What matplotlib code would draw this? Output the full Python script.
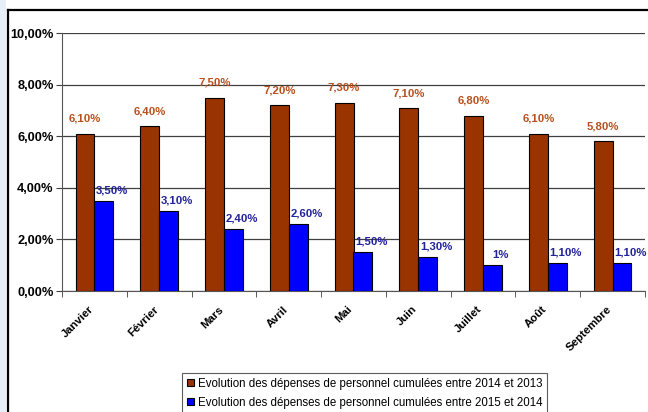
import matplotlib
matplotlib.use("Agg")
import matplotlib.pyplot as plt
import matplotlib.transforms as mtransforms
from matplotlib.patches import Rectangle
from matplotlib.lines import Line2D

months = ["Janvier", "Février", "Mars", "Avril", "Mai", "Juin", "Juillet", "Août", "Septembre"]
evol_2014_2013 = [6.1, 6.4, 7.5, 7.2, 7.3, 7.1, 6.8, 6.1, 5.8]
evol_2015_2014 = [3.5, 3.1, 2.4, 2.6, 1.5, 1.3, 1.0, 1.1, 1.1]
labels_2014_2013 = ["6,10%", "6,40%", "7,50%", "7,20%", "7,30%", "7,10%", "6,80%", "6,10%", "5,80%"]
labels_2015_2014 = ["3,50%", "3,10%", "2,40%", "2,60%", "1,50%", "1,30%", "1%", "1,10%", "1,10%"]
yticks = [0, 2, 4, 6, 8, 10]
ytick_labels = ["0,00%", "2,00%", "4,00%", "6,00%", "8,00%", "10,00%"]
series_names = ["Evolution des dépenses de personnel cumulées entre 2014 et 2013",
                "Evolution des dépenses de personnel cumulées entre 2015 et 2014"]

plt.rcParams["font.family"] = ["Liberation Sans", "DejaVu Sans"]

W, H = 648, 412
fig = plt.figure(figsize=(W / 100, H / 100), dpi=100)

# light blue strip and outer frame
fig.add_artist(Rectangle((0, 0), 6 / W, 1, transform=fig.transFigure,
                         facecolor="#e6eef8", edgecolor="none"))
fig.add_artist(Line2D([8 / W, 8 / W], [0, 1 - 10 / H], transform=fig.transFigure,
                      color="black", lw=1.6))
fig.add_artist(Line2D([8 / W, 1], [1 - 10 / H, 1 - 10 / H], transform=fig.transFigure,
                      color="black", lw=1.6))

ax = fig.add_axes([62 / W, 1 - 291 / H, 583 / W, 258 / H])
x = list(range(len(months)))
w = 0.29
brown = "#993300"
blue = "#0000ff"
ax.bar([i - w / 2 for i in x], evol_2014_2013, width=w, color=brown,
       edgecolor="black", linewidth=0.8, zorder=3, label=series_names[0])
ax.bar([i + w / 2 for i in x], evol_2015_2014, width=w, color=blue,
       edgecolor="black", linewidth=0.8, zorder=3, label=series_names[1])

for i, (v, t) in enumerate(zip(evol_2014_2013, labels_2014_2013)):
    ax.annotate(t, (i - w / 2, v), xytext=(0, 7), textcoords="offset points",
                ha="center", va="bottom", fontsize=8.2, fontweight="bold", color="#b8501e")
for i, (v, t) in enumerate(zip(evol_2015_2014, labels_2015_2014)):
    ax.annotate(t, (i + w / 2, v), xytext=(6, 4), textcoords="offset points",
                ha="center", va="bottom", fontsize=8.2, fontweight="bold", color="#22229a")

ax.set_xlim(-0.5, len(months) - 0.5)
ax.set_ylim(0, 10)
ax.set_yticks(yticks)
ax.set_yticklabels(ytick_labels, fontsize=9.2, fontweight="bold")
ax.yaxis.grid(True, color="#404040", lw=0.9, zorder=0)
ax.set_axisbelow(True)

ax.set_xticks(x)
ax.set_xticklabels(months, rotation=45, ha="right", rotation_mode="anchor",
                   fontsize=8.2, fontweight="bold")
ax.tick_params(axis="x", length=0, pad=8)
offset = mtransforms.ScaledTranslation(-6 / 100, -2 / 100, fig.dpi_scale_trans)
for lbl in ax.get_xticklabels():
    lbl.set_transform(lbl.get_transform() + offset)
ax.set_xticks([i - 0.5 for i in range(len(months) + 1)], minor=True)
ax.tick_params(axis="x", which="minor", length=4, direction="out", color="#404040")
ax.tick_params(axis="y", length=4, direction="out", color="#404040", pad=2)

for s in ["top", "right"]:
    ax.spines[s].set_visible(False)
ax.spines["left"].set_color("#555555")
ax.spines["bottom"].set_color("#555555")

handles = [Rectangle((0, 0), 1, 1, facecolor=brown, edgecolor="black", lw=0.8),
           Rectangle((0, 0), 1, 1, facecolor=blue, edgecolor="black", lw=0.8)]
leg = fig.legend(handles, series_names, loc="upper left",
                 bbox_to_anchor=(182 / W, 1 - 373 / H), frameon=True, fancybox=False,
                 edgecolor="#333333", fontsize=8.3, handlelength=0.6, handleheight=0.6,
                 handletextpad=0.4, borderpad=0.4, labelspacing=0.6, borderaxespad=0)
leg.get_frame().set_linewidth(0.8)

fig.savefig("out.png", dpi=100)
